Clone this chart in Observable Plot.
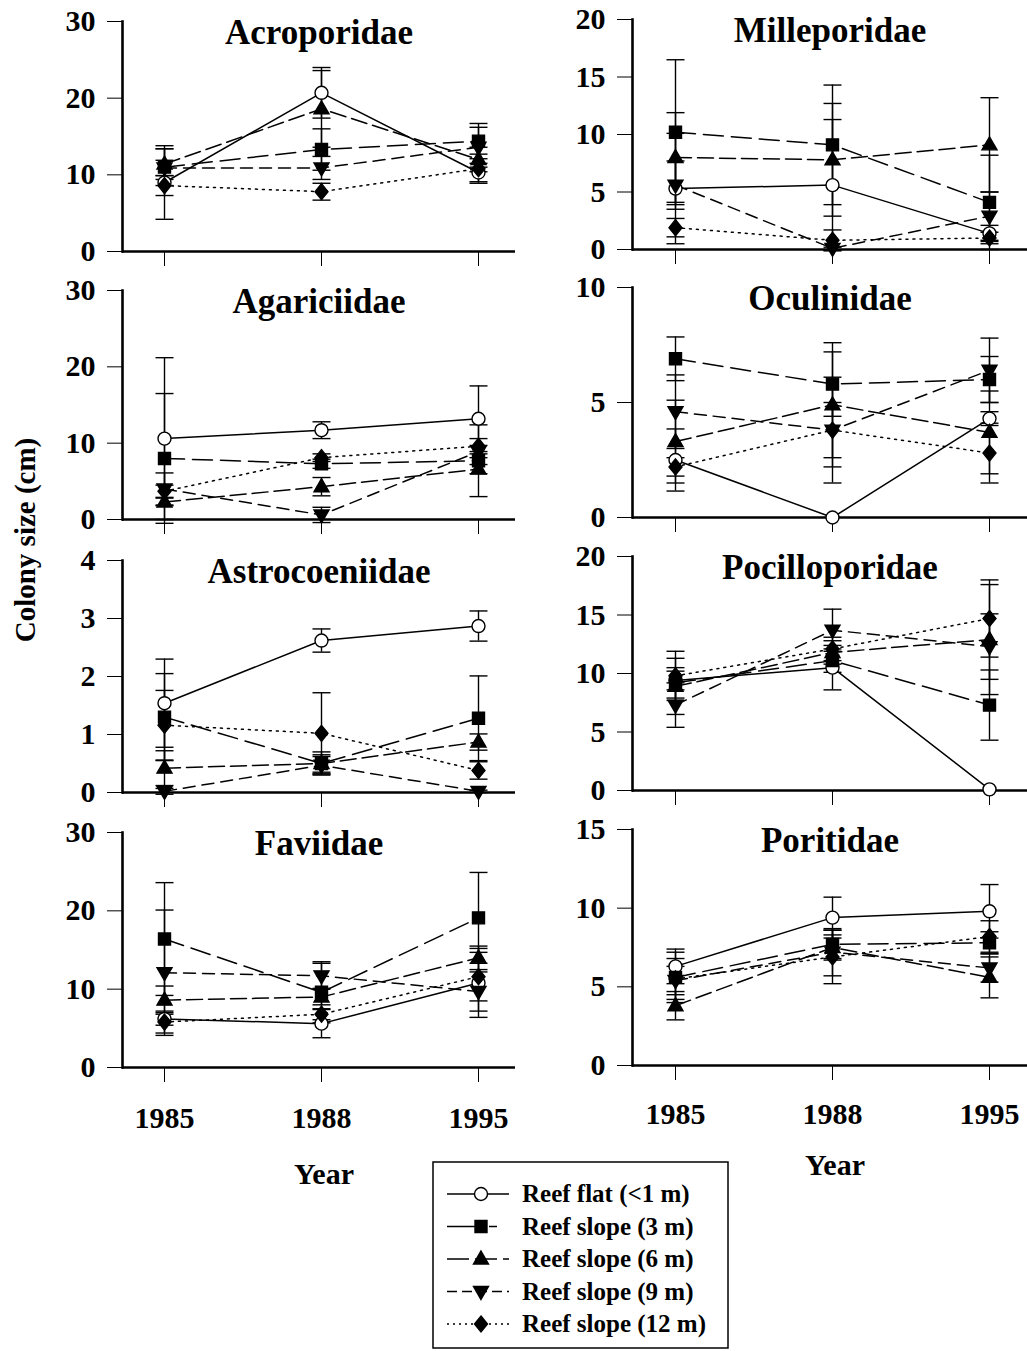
<!DOCTYPE html>
<html><head><meta charset="utf-8">
<script src="https://cdn.jsdelivr.net/npm/d3@7"></script>
<script src="https://cdn.jsdelivr.net/npm/@observablehq/plot@0.6"></script>
<style>
body{margin:0;background:#fff;}
#root{position:relative;width:1027px;height:1351px;background:#fff;overflow:hidden;font-family:"Liberation Serif","Times New Roman",serif;font-weight:bold;color:#000;}
.panel{position:absolute;}
.panel svg{overflow:visible;max-width:none;background:transparent;}
#overlay{position:absolute;left:0;top:0;}
</style></head>
<body><div id="root"></div>
<script>
// ---- data ----
const years = [1985, 1988, 1995];
const seriesNames = ["Reef flat (<1 m)", "Reef slope (3 m)", "Reef slope (6 m)", "Reef slope (9 m)", "Reef slope (12 m)"];
const families = ["Acroporidae", "Milleporidae", "Agariciidae", "Oculinidae", "Astrocoeniidae", "Pocilloporidae", "Faviidae", "Poritidae"];
const yMax = [30, 20, 30, 10, 4, 20, 30, 15];
const yTicks = [[0,10,20,30],[0,5,10,15,20],[0,10,20,30],[0,5,10],[0,1,2,3,4],[0,5,10,15,20],[0,10,20,30],[0,5,10,15]];

// means per series (rows: flat, 3m, 6m, 9m, 12m; columns: 1985, 1988, 1995)
const acroporidaeMean = [[9.0,20.7,10.3],[11.0,13.3,14.4],[11.4,18.6,12.0],[10.9,10.9,13.6],[8.6,7.8,10.8]];
const acroporidaeErr  = [[4.8,3.3,1.2],[2.4,2.7,2.3],[2.0,5.0,1.6],[1.0,1.5,2.6],[1.3,1.1,1.9]];
const milleporidaeMean = [[5.3,5.6,1.4],[10.2,9.1,4.1],[8.0,7.8,9.1],[5.6,0.1,2.9],[1.9,0.8,1.0]];
const milleporidaeErr  = [[4.8,5.7,0.7],[6.3,5.2,4.1],[3.9,4.9,4.1],[2.1,0.1,2.1],[0.8,0.9,0.5]];
const agariciidaeMean = [[10.6,11.7,13.2],[8.0,7.3,7.7],[2.3,4.3,6.6],[4.0,0.6,8.9],[3.7,8.1,9.6]];
const agariciidaeErr  = [[10.6,1.1,4.3],[8.5,0.6,4.7],[0.5,1.2,0.6],[2.1,1.0,0.8],[0.8,0.5,1.0]];
const oculinidaeMean = [[2.5,0.0,4.3],[6.9,5.8,6.0],[3.3,4.9,3.7],[4.6,3.8,6.4],[2.2,3.8,2.8]];
const oculinidaeErr  = [[1.35,0,0.3],[0.95,1.4,1.0],[1.8,2.7,1.8],[1.6,1.2,1.4],[0.4,2.3,1.3]];
const astrocoeniidaeMean = [[1.54,2.62,2.87],[1.3,0.5,1.28],[0.42,0.5,0.87],[0.02,0.47,0.02],[1.16,1.02,0.38]];
const astrocoeniidaeErr  = [[0.76,0.2,0.26],[0.75,0.2,0.73],[0.3,0.15,0.14],[0.05,0.15,0.02],[0.6,0.7,0.15]];
const pocilloporidaeMean = [[9.4,10.5,0.1],[9.2,11.1,7.3],[8.9,11.8,12.9],[7.3,13.7,12.3],[9.8,12.1,14.7]];
const pocilloporidaeErr  = [[0.8,1.9,0],[1.3,1.0,3.0],[2.4,1.0,4.7],[1.9,1.8,2.8],[2.1,1.0,3.3]];
const faviidaeMean = [[6.2,5.6,10.8],[16.4,9.6,19.1],[8.6,9.0,14.0],[12.1,11.7,9.7],[5.8,6.8,11.6]];
const faviidaeErr  = [[0.8,1.8,4.4],[7.2,3.9,5.8],[1.8,1.0,1.5],[8.0,1.6,2.5],[1.4,0.7,3.1]];
const poritidaeMean = [[6.3,9.4,9.8],[5.6,7.7,7.8],[3.8,7.5,5.6],[5.4,7.2,6.2],[5.5,6.9,8.2]];
const poritidaeErr  = [[1.1,1.3,1.7],[1.6,0.9,0.7],[0.9,0.8,1.3],[0.9,1.5,0.9],[1.3,1.7,1.0]];

const means = [acroporidaeMean, milleporidaeMean, agariciidaeMean, oculinidaeMean, astrocoeniidaeMean, pocilloporidaeMean, faviidaeMean, poritidaeMean];
const errs  = [acroporidaeErr, milleporidaeErr, agariciidaeErr, oculinidaeErr, astrocoeniidaeErr, pocilloporidaeErr, faviidaeErr, poritidaeErr];

// ---- styles ----
const FONT = '"Liberation Serif","Times New Roman",serif';
const sym = {
  circle: {draw(c){c.moveTo(6.5,0); c.arc(0,0,6.5,0,2*Math.PI);}},
  square: {draw(c){c.rect(-6,-6,12,12);}},
  up: {draw(c){c.moveTo(0,-8); c.lineTo(7.5,5); c.lineTo(-7.5,5); c.closePath();}},
  down: {draw(c){c.moveTo(0,8); c.lineTo(7.5,-5); c.lineTo(-7.5,-5); c.closePath();}},
  diamond: {draw(c){c.moveTo(0,-8); c.lineTo(6.5,0); c.lineTo(0,8); c.lineTo(-6.5,0); c.closePath();}},
  cap: {draw(c){c.moveTo(-9,0); c.lineTo(9,0);}}
};
const symbols = [sym.circle, sym.square, sym.up, sym.down, sym.diamond];
const fills = ["#fff", "#000", "#000", "#000", "#000"];
const dashes = [null, "20,8", "16,6", "12,7", "2,5"];

// layout per panel: column, top of axis, zero baseline
const layout = [
  {col:0, yTop:21, yZero:251}, {col:1, yTop:19, yZero:249},
  {col:0, yTop:290, yZero:519}, {col:1, yTop:287, yZero:517},
  {col:0, yTop:560, yZero:792}, {col:1, yTop:556, yZero:790},
  {col:0, yTop:832, yZero:1067, bottom:true}, {col:1, yTop:829, yZero:1065, bottom:true}
];
const cols = [
  {left:0, width:520, marginRight:5, xRange:[164,478], tickPad:24},
  {left:510, width:517, marginRight:0, xRange:[164.5,480], tickPad:22}
];

const root = document.getElementById("root");

families.forEach((name, p) => {
  const L = layout[p], C = cols[L.col];
  const rows = [];
  seriesNames.forEach((s, i) => years.forEach((yr, j) => rows.push({series:s, si:i, year:yr, mean:means[p][i][j], err:errs[p][i][j]})));
  const withErr = rows.filter(r => r.err > 0);
  const marginTop = 16;
  const marginBottom = L.bottom ? 75 : 20;
  const height = Math.round(marginTop + (L.yZero - L.yTop) + marginBottom);
  const marks = [];
  marks.push(Plot.frame({anchor: "left", stroke: "#000", strokeWidth: 2.6}));
  marks.push(Plot.ruleY([0], {stroke:"#000", strokeWidth:2.6}));
  seriesNames.forEach((s, i) => {
    marks.push(Plot.line(rows.filter(r => r.si === i), {x:"year", y:"mean", stroke:"#000", strokeWidth:1.5, strokeDasharray: dashes[i] || undefined}));
  });
  marks.push(Plot.ruleX(withErr, {x:"year", y1: r => r.mean - r.err, y2: r => r.mean + r.err, stroke:"#000", strokeWidth:1.4}));
  marks.push(Plot.dot(withErr, {x:"year", y: r => r.mean + r.err, symbol: sym.cap, stroke:"#000", fill:"none", strokeWidth:1.4}));
  marks.push(Plot.dot(withErr, {x:"year", y: r => r.mean - r.err, symbol: sym.cap, stroke:"#000", fill:"none", strokeWidth:1.4}));
  seriesNames.forEach((s, i) => {
    marks.push(Plot.dot(rows.filter(r => r.si === i), {x:"year", y:"mean", symbol: symbols[i], fill: fills[i], stroke:"#000", strokeWidth:1.4}));
  });
  marks.push(Plot.text([name], {text: d => d, frameAnchor:"top", lineAnchor:"top", dy: -2, fontSize: 35, fontWeight:"bold", fill:"#000"}));

  const chart = Plot.plot({
    width: C.width, height,
    marginLeft: 122, marginRight: C.marginRight, marginTop, marginBottom,
    style: {fontFamily: FONT, fontSize: "30px", fontWeight: "bold", color: "#000", background: "transparent", overflow: "visible"},
    x: {type:"point", domain: years, range: C.xRange, padding: 0, tickSize: 15, tickPadding: C.tickPad,
        tickFormat: L.bottom ? (d => String(d)) : (() => ""), label: null},
    y: {domain: [0, yMax[p]], ticks: yTicks[p], tickSize: 15, tickPadding: 12, label: null, tickFormat: d => String(d)},
    marks
  });
  const div = document.createElement("div");
  div.className = "panel";
  div.style.left = C.left + "px";
  div.style.top = (L.yTop - marginTop) + "px";
  div.appendChild(chart);
  root.appendChild(div);
});

// ---- overlay labels & legend ----
const ov = d3.select(root).append("svg").attr("id","overlay").attr("width",1027).attr("height",1351)
  .style("font-family", FONT).style("font-weight","bold");
ov.append("text").attr("x",324).attr("y",1184).attr("text-anchor","middle").attr("font-size",30).text("Year");
ov.append("text").attr("x",835).attr("y",1175).attr("text-anchor","middle").attr("font-size",30).text("Year");
ov.append("text").attr("transform","translate(35,540) rotate(-90)").attr("text-anchor","middle").attr("font-size",29).text("Colony size (cm)");

const lg = ov.append("g").attr("transform","translate(433,1162)");
lg.append("rect").attr("width",295).attr("height",186).attr("fill","#fff").attr("stroke","#000").attr("stroke-width",1.5);
const legendDash = [null, "30,12,8,40", "22,6", "10,5", "2,4"];
seriesNames.forEach((s, i) => {
  const cy = 32 + i * 32.5;
  lg.append("line").attr("x1",14).attr("x2",76).attr("y1",cy).attr("y2",cy).attr("stroke","#000").attr("stroke-width",1.5)
    .attr("stroke-dasharray", legendDash[i]);
  lg.append("path").attr("transform",`translate(48,${cy})`).attr("d", d3.symbol().type(symbols[i])())
    .attr("fill", fills[i]).attr("stroke","#000").attr("stroke-width",1.4);
  lg.append("text").attr("x",89).attr("y",cy + 8).attr("font-size",25).text(s);
});
</script>
</body></html>
